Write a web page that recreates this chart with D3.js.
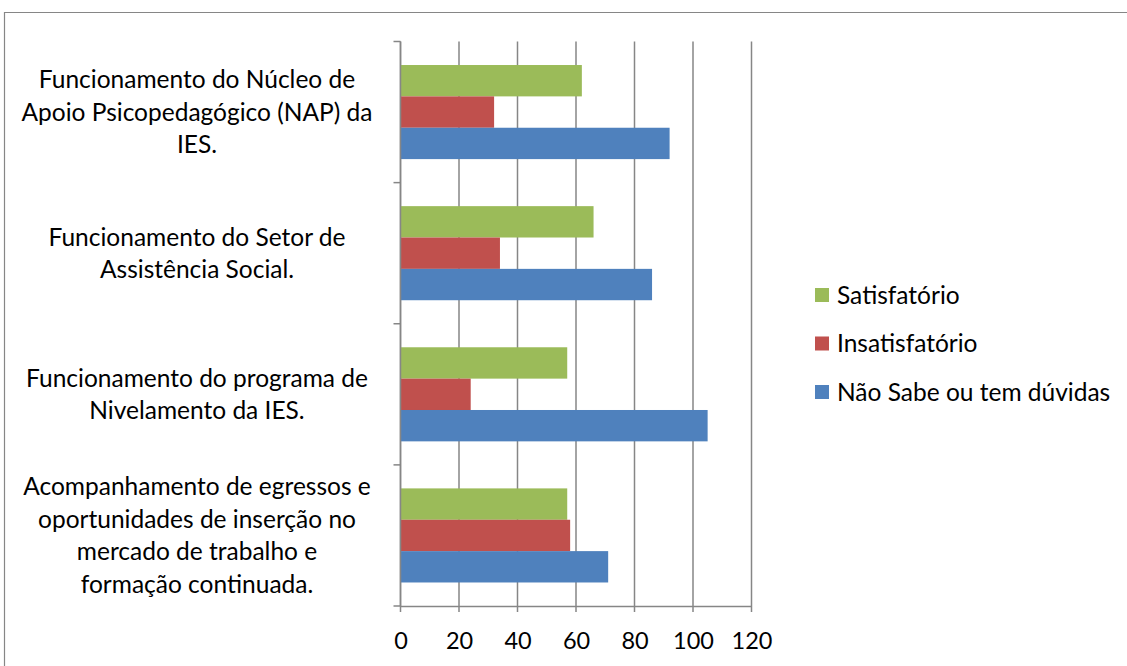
<!DOCTYPE html>
<html>
<head>
<meta charset="utf-8">
<script src="https://cdn.jsdelivr.net/npm/d3@7"></script>
<style>
  html, body { margin: 0; padding: 0; background: #fff; }
  svg { display: block; }
  text { font-family: Lato, "Open Sans", sans-serif; fill: #000; }
</style>
</head>
<body>
<svg id="chart" width="1127" height="666"></svg>
<script>
var categories = [
  ['Funcionamento do Núcleo de', 'Apoio Psicopedagógico (NAP) da', 'IES.'],
  ['Funcionamento do Setor de', 'Assistência Social.'],
  ['Funcionamento do programa de', 'Nivelamento da IES.'],
  ['Acompanhamento de egressos e', 'oportunidades de inserção no', 'mercado de trabalho e', 'formação continuada.']
];
var seriesNames = ['Satisfatório', 'Insatisfatório', 'Não Sabe ou tem dúvidas'];
var satisfatorio = [62, 66, 57, 57];
var insatisfatorio = [32, 34, 24, 58];
var naoSabe = [92, 86, 105, 71];
var xTicks = [0, 20, 40, 60, 80, 100, 120];
var colors = ['#9bbb59', '#c0504d', '#4f81bd'];

var values = [satisfatorio, insatisfatorio, naoSabe];
var fontSize = 24.5;
var gridColor = '#868686';

var svg = d3.select('#chart');

// outer frame (only top and left edges are visible)
svg.append('path')
  .attr('d', 'M4.5,666 V12.5 H1127')
  .attr('fill', 'none')
  .attr('stroke', gridColor)
  .attr('stroke-width', 1.2);

var plotLeft = 400.5, plotRight = 751.5, plotTop = 41.5, plotBottom = 606;

var x = d3.scaleLinear().domain([0, 120]).range([plotLeft, plotRight]);
var y = d3.scaleBand().domain(d3.range(categories.length)).range([plotTop, plotBottom]);
// Excel gap width 150%: 3 bars + 1.5 bar widths of gap per category
var inner = d3.scaleBand().domain(d3.range(seriesNames.length))
  .range([0, y.bandwidth()]).paddingOuter(0.75).paddingInner(0);

// vertical gridlines
svg.append('g')
  .selectAll('line')
  .data(xTicks)
  .enter()
  .append('line')
  .attr('x1', function(d) { return x(d); })
  .attr('x2', function(d) { return x(d); })
  .attr('y1', plotTop)
  .attr('y2', plotBottom + 6)
  .attr('stroke', gridColor)
  .attr('stroke-width', 1.5);

// bars
categories.forEach(function(c, i) {
  values.forEach(function(s, j) {
    svg.append('rect')
      .attr('x', x(0))
      .attr('y', y(i) + inner(j))
      .attr('width', x(s[i]) - x(0))
      .attr('height', inner.bandwidth())
      .attr('fill', colors[j]);
  });
});

// x axis
var xAxis = svg.append('g')
  .attr('transform', 'translate(0,' + plotBottom + ')')
  .call(d3.axisBottom(x).tickValues(xTicks).tickSize(0).tickPadding(26));
xAxis.select('.domain').attr('stroke', gridColor).attr('stroke-width', 1.5);
xAxis.selectAll('text')
  .style('font-family', 'Lato, sans-serif')
  .style('font-size', '23.5px')
  .attr('fill', '#000');

// y axis line and category ticks
var yTickPos = d3.range(categories.length + 1).map(function(i) {
  return i < categories.length ? y(i) : plotBottom;
});
svg.append('line')
  .attr('x1', plotLeft).attr('x2', plotLeft)
  .attr('y1', plotTop).attr('y2', plotBottom)
  .attr('stroke', gridColor).attr('stroke-width', 1.5);
svg.append('g')
  .selectAll('line')
  .data(yTickPos)
  .enter()
  .append('line')
  .attr('x1', plotLeft - 7)
  .attr('x2', plotLeft)
  .attr('y1', function(d) { return d; })
  .attr('y2', function(d) { return d; })
  .attr('stroke', gridColor)
  .attr('stroke-width', 1.5);

// category labels
var lineH = 32.5;
categories.forEach(function(lines, i) {
  var cy = y(i) + y.bandwidth() / 2;
  var t = svg.append('text')
    .attr('text-anchor', 'middle')
    .style('font-size', fontSize + 'px');
  lines.forEach(function(l, k) {
    t.append('tspan')
      .attr('x', 197)
      .attr('y', cy + (k - (lines.length - 1) / 2) * lineH)
      .attr('dy', '0.35em')
      .text(l);
  });
});

// legend
var legend = svg.append('g')
  .selectAll('g')
  .data(seriesNames)
  .enter()
  .append('g')
  .attr('transform', function(d, i) { return 'translate(815,' + (295 + i * 48.5) + ')'; });
legend.append('rect')
  .attr('x', 0).attr('y', -7)
  .attr('width', 14).attr('height', 14)
  .attr('fill', function(d, i) { return colors[i]; });
legend.append('text')
  .attr('x', 22)
  .attr('dy', '0.35em')
  .style('font-size', fontSize + 'px')
  .text(function(d) { return d; });
</script>
</body>
</html>
